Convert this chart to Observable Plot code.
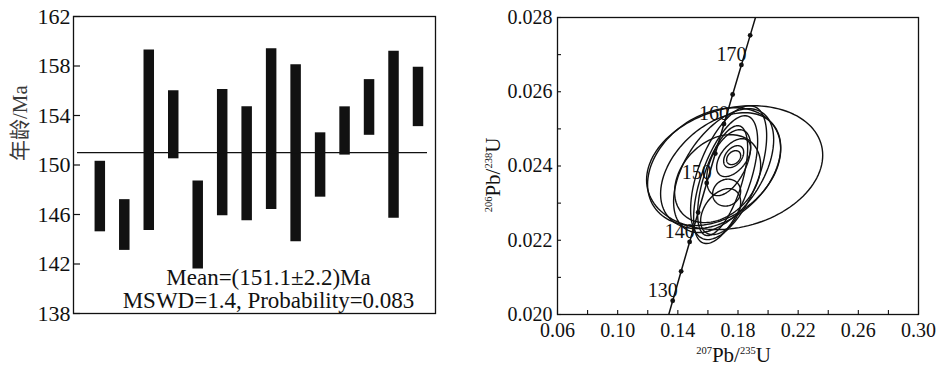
<!DOCTYPE html>
<html><head><meta charset="utf-8">
<script src="https://cdn.jsdelivr.net/npm/d3@7"></script>
<script src="https://cdn.jsdelivr.net/npm/@observablehq/plot@0.6"></script>
<style>
body{margin:0;background:#fff;}
#wrap{display:flex;width:947px;height:371px;overflow:hidden;}
svg{display:block;flex:none;}
</style></head><body><div id="wrap"></div>
<script>
// ---------- Left panel: weighted mean ages ----------
const barIndex = [1,2,3,4,5,6,7,8,9,10,11,12,13,14];
const barHigh  = [150.3,147.2,159.3,156.0,148.7,156.1,154.7,159.4,158.1,152.6,154.7,156.9,159.2,157.9];
const barLow   = [144.6,143.1,144.7,150.5,141.6,145.9,145.5,146.4,143.8,147.4,150.8,152.4,145.7,153.1];
const meanAge  = [151.0];
const ageTicks = [138,142,146,150,154,158,162];
const annotation = ["Mean=(151.1±2.2)Ma", "MSWD=1.4, Probability=0.083"];
const ageLabel = "年龄/Ma";

// ---------- Right panel: concordia ----------
const concAge = [125,130,135,140,145,150,155,160,165,170,175,180];
const concX   = [0.13100,0.13659,0.14220,0.14784,0.15350,0.15920,0.16492,0.17067,0.17645,0.18226,0.18809,0.19396];
const concY   = [0.019580,0.020371,0.021163,0.021955,0.022748,0.023542,0.024336,0.025131,0.025926,0.026722,0.027519,0.028316];
const dotAges   = [130,135,140,145,150,155,160,165,170,175];
const labelAges = [130,140,150,160,170];

// error ellipses: centre, half-extent in x and y, correlation
const ellCx  = [0.17777,0.16413,0.16846,0.17045,0.17378,0.17178,0.16979,0.17378,0.17711,0.17711,0.17711,0.17245,0.16846,0.16646];
const ellCy  = [0.023956,0.023983,0.023875,0.023875,0.023821,0.023633,0.023606,0.024090,0.024225,0.024252,0.024225,0.023283,0.022772,0.023660];
const ellAx  = [0.05855,0.04425,0.03992,0.03327,0.02528,0.02129,0.01663,0.01464,0.01131,0.00665,0.00466,0.00932,0.01331,0.02861];
const ellAy  = [0.001668,0.001588,0.001561,0.001668,0.001803,0.001722,0.001480,0.000888,0.000511,0.000296,0.000188,0.000363,0.000619,0.001184];
const ellRho = [0.20,0.30,0.40,0.50,0.55,0.60,0.60,0.50,0.50,0.40,0.30,0.10,0.40,0.30];

const xLabelTicks = [0.06,0.10,0.14,0.18,0.22,0.26,0.30];
const xMarkTicks  = [0.06,0.08,0.10,0.12,0.14,0.16,0.18,0.20,0.22,0.24,0.26,0.28,0.30];
const yLabelTicks = [0.020,0.022,0.024,0.026,0.028];
const yMarkTicks  = [0.020,0.021,0.022,0.023,0.024,0.025,0.026,0.027,0.028];

const FONT = '"Liberation Serif","Times New Roman",serif';
const INK = "#111";
const H = 371;

// ----- left plot -----
const W1 = 470, mL1 = 73, mR1 = 35, mT1 = 16, mB1 = 58;
const bars = barIndex.map((x, i) => ({x, lo: barLow[i], hi: barHigh[i]}));
const left = Plot.plot({
  width: W1, height: H,
  marginLeft: mL1, marginRight: mR1, marginTop: mT1, marginBottom: mB1,
  style: {fontFamily: FONT, fontSize: "22px", color: INK, background: "white", overflow: "visible"},
  x: {domain: [-0.075, 14.715], axis: null},
  y: {domain: [138, 162], axis: null},
  marks: [
    Plot.ruleY(ageTicks, {y: d => d, insetRight: (W1 - mL1 - mR1) - 7, stroke: INK, strokeWidth: 1.2}),
    Plot.axisY(ageTicks, {tickSize: 0, tickPadding: 3, fontSize: 22, label: null, tickFormat: d => String(d), fill: INK}),
    Plot.ruleX(bars, {x: "x", y1: "lo", y2: "hi", stroke: INK, strokeWidth: 10.5}),
    Plot.ruleY(meanAge, {y: d => d, insetLeft: 4, insetRight: 8, stroke: INK, strokeWidth: 1.3}),
    Plot.frame({stroke: INK, strokeWidth: 1.3}),
    Plot.text([ageLabel], {frameAnchor: "left", text: d => d, rotate: -90, dx: -53, dy: -4,
      fontFamily: '"Liberation Serif","Noto Sans CJK SC",serif', fontSize: 21, fill: "#3a3a3a"}),
    Plot.text([annotation.join("\n")], {frameAnchor: "bottom", text: d => d, lineAnchor: "bottom",
      dx: 14, dy: -6, lineHeight: 1.0, fontSize: 23, fill: INK})
  ]
});

// ----- right plot -----
const W2 = 477, mL2 = 87, mR2 = 29, mT2 = 17, mB2 = 57;
const pW2 = W2 - mL2 - mR2, pH2 = H - mT2 - mB2;
const ellPts = [];
const N = 120;
ellCx.forEach((cx, i) => {
  const s = Math.sqrt(1 - ellRho[i] * ellRho[i]);
  for (let k = 0; k <= N; k++) {
    const t = 2 * Math.PI * k / N;
    ellPts.push({id: i,
      x: cx + ellAx[i] * Math.cos(t),
      y: ellCy[i] + ellAy[i] * (ellRho[i] * Math.cos(t) + s * Math.sin(t))});
  }
});
const conc = concAge.map((a, i) => ({age: a, x: concX[i], y: concY[i]}));
const dots = conc.filter(d => dotAges.includes(d.age));
const labs = conc.filter(d => labelAges.includes(d.age));

const right = Plot.plot({
  width: W2, height: H,
  marginLeft: mL2, marginRight: mR2, marginTop: mT2, marginBottom: mB2,
  style: {fontFamily: FONT, fontSize: "20px", color: INK, background: "white", overflow: "visible"},
  x: {domain: [0.06, 0.30], axis: null},
  y: {domain: [0.020, 0.028], axis: null},
  marks: [
    Plot.ruleX(xMarkTicks, {x: d => d, insetTop: pH2 - 4, stroke: INK, strokeWidth: 1.1}),
    Plot.ruleY(yMarkTicks, {y: d => d, insetRight: pW2 - 4, stroke: INK, strokeWidth: 1.1}),
    Plot.axisX(xLabelTicks, {tickSize: 0, tickPadding: 8, fontSize: 20, label: null, tickFormat: d3.format(".2f"), fill: INK}),
    Plot.axisY(yLabelTicks, {tickSize: 0, tickPadding: 5, fontSize: 20, label: null, tickFormat: d3.format(".3f"), fill: INK}),
    Plot.line(ellPts, {x: "x", y: "y", z: "id", stroke: INK, strokeWidth: 1.4, clip: true}),
    Plot.line(conc, {x: "x", y: "y", stroke: INK, strokeWidth: 1.5, clip: true}),
    Plot.dot(dots, {x: "x", y: "y", r: 2.4, fill: INK, stroke: null}),
    Plot.text(labs, {x: "x", y: "y", text: d => String(d.age), textAnchor: "end", lineAnchor: "bottom",
      dx: 5, dy: -4, fontSize: 20, fill: INK}),
    Plot.frame({stroke: INK, strokeWidth: 1.3})
  ]
});

// axis titles with superscripts
function isoLabel(svg, x, y, rot, parts) {
  const t = d3.select(svg).append("text")
    .attr("transform", `translate(${x},${y}) rotate(${rot})`)
    .attr("text-anchor", "middle")
    .attr("font-family", FONT)
    .attr("fill", INK);
  parts.forEach(([s, sup]) => {
    t.append("tspan").attr("font-size", sup ? 10.5 : 21)
      .attr("baseline-shift", sup ? "8" : "0").text(s);
  });
}
isoLabel(right, mL2 + pW2 / 2 - 4, 362, 0, [["207", 1], ["Pb/", 0], ["235", 1], ["U", 0]]);
isoLabel(right, 30, 175, -90, [["206", 1], ["Pb/", 0], ["238", 1], ["U", 0]]);

const wrap = document.getElementById("wrap");
wrap.appendChild(left);
wrap.appendChild(right);
</script></body></html>
